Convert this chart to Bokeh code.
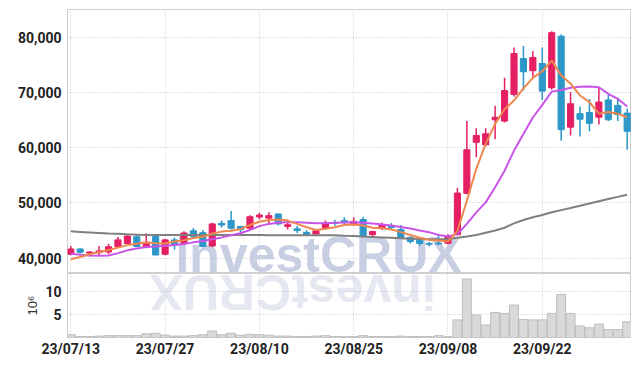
import numpy as np
from bokeh.plotting import figure
from bokeh.layouts import column
from bokeh.models import Range1d, FixedTicker, NumeralTickFormatter, ColumnDataSource
from bokeh.core.properties import value
from bokeh.embed import file_html
from bokeh.resources import INLINE

dates = ["23/07/13", "23/07/14", "23/07/17", "23/07/18", "23/07/19", "23/07/20", "23/07/21",
         "23/07/24", "23/07/25", "23/07/26", "23/07/27", "23/07/28", "23/07/31", "23/08/01",
         "23/08/02", "23/08/03", "23/08/04", "23/08/07", "23/08/08", "23/08/09", "23/08/10",
         "23/08/11", "23/08/14", "23/08/16", "23/08/17", "23/08/18", "23/08/21", "23/08/22",
         "23/08/23", "23/08/24", "23/08/25", "23/08/28", "23/08/29", "23/08/30", "23/08/31",
         "23/09/01", "23/09/04", "23/09/05", "23/09/06", "23/09/07", "23/09/08", "23/09/11",
         "23/09/12", "23/09/13", "23/09/14", "23/09/15", "23/09/18", "23/09/19", "23/09/20",
         "23/09/21", "23/09/22", "23/09/25", "23/09/26", "23/09/27", "23/10/04", "23/10/05",
         "23/10/06", "23/10/10", "23/10/11", "23/10/12"]

opens = [40700, 41650, 40900, 41000, 41100, 42100, 42650, 43850, 42000, 43900,
         40700, 43300, 42650, 44950, 44600, 42200, 46300, 46800, 45750, 45400,
         47450, 47250, 48000, 45750, 45300, 44650, 44350, 45550, 46450, 46800,
         46050, 47000, 44250, 45450, 45850, 45200, 43750, 43250, 42650, 42700,
         42700, 44250, 51750, 61000, 60550, 65100, 64850, 69700, 76200, 74000,
         75300, 70900, 80250, 63750, 66200, 66400, 65550, 68700, 67700, 66300]
highs = [42200, 41800, 41300, 42200, 42600, 43800, 44100, 44200, 44500, 44000,
         43500, 43750, 44850, 45450, 45100, 46400, 46800, 48550, 45800, 47750,
         48200, 48300, 48100, 46650, 45800, 45100, 45250, 46800, 46950, 47400,
         47400, 47500, 44950, 46450, 46350, 46000, 43900, 43450, 42950, 44350,
         44300, 52750, 64850, 63550, 63550, 67650, 72700, 78200, 78500, 77550,
         78200, 81150, 80550, 70100, 67500, 68850, 71000, 69700, 69100, 67150]
lows = [40500, 40800, 40300, 40400, 40700, 42000, 42500, 42000, 41800, 40500,
        40500, 41500, 42400, 43750, 42000, 42000, 45550, 45200, 44200, 45300,
        47000, 46200, 45900, 45200, 44550, 44100, 44050, 45250, 45850, 46200,
        45850, 43900, 43750, 45100, 45250, 43600, 42650, 42250, 42100, 42400,
        42500, 44100, 51600, 58300, 60300, 61550, 64600, 69300, 70400, 72800,
        68700, 70550, 61300, 62250, 62050, 63000, 64250, 64850, 64850, 59650]
closes = [41650, 41050, 41100, 41300, 42050, 43300, 44000, 42100, 42600, 40550,
          43300, 42350, 44550, 43900, 42100, 46200, 46000, 45400, 45150, 47500,
          47800, 47700, 46200, 46050, 45000, 44300, 44950, 46350, 46300, 46550,
          46650, 44100, 44800, 46050, 45550, 43750, 43000, 42650, 42500, 42550,
          43950, 51800, 59650, 62250, 62550, 65550, 70400, 77100, 73800, 76400,
          70300, 80900, 63300, 68000, 65200, 64450, 68300, 65100, 66050, 63000]

ma_short = [39800, 40200, 40700, 41100, 41450, 41900, 42350, 42600, 42850, 42700,
            42650, 43000, 43250, 43650, 43850, 44450, 44800, 44950, 45250, 46000,
            46600, 46900, 47000, 46800, 46200, 45600, 45100, 45300, 45600, 46000,
            46100, 45900, 45500, 45400, 45200, 44700, 44200, 43700, 43300, 43200,
            43000, 44950, 50400, 56200, 60750, 64350, 67000, 68600, 70800, 72700,
            73900, 75850, 73150, 71650, 69500, 68300, 66200, 66500, 66200, 65550]
ma_mid = [40800, 40600, 40450, 40400, 40450, 40900, 41400, 41750, 42000, 42100,
          42250, 42350, 42550, 42850, 43100, 43400, 43750, 44150, 44500, 45100,
          45800, 46200, 46400, 46500, 46500, 46400, 46300, 46300, 46400, 46450,
          46500, 46400, 46250, 46100, 45900, 45650, 45350, 45000, 44700, 44200,
          43900, 44350, 46200, 48300, 50100, 52850, 55850, 59500, 62500, 65500,
          67800, 70200, 70500, 70900, 71100, 71150, 71000, 69800, 68900, 67500]
ma_long = [44850, 44750, 44650, 44550, 44450, 44400, 44300, 44250, 44200, 44200,
           44200, 44200, 44200, 44200, 44200, 44200, 44200, 44200, 44200, 44200,
           44200, 44150, 44150, 44150, 44150, 44150, 44150, 44150, 44150, 44050,
           44000, 43900, 43800, 43750, 43700, 43600, 43500, 43450, 43400, 43400,
           43450, 43700, 43900, 44200, 44600, 45000, 45500, 46300, 46900, 47400,
           47800, 48300, 48700, 49100, 49500, 49900, 50300, 50700, 51100, 51500]

volume = [0.6, 0.2, 0.2, 0.3, 0.4, 0.4, 0.4, 0.4, 0.8, 0.9,
          0.5, 0.3, 0.3, 0.4, 0.6, 1.4, 0.6, 0.9, 0.5, 0.7,
          0.6, 0.5, 0.3, 0.3, 0.2, 0.2, 0.3, 0.4, 0.2, 0.2,
          0.2, 0.4, 0.2, 0.2, 0.2, 0.3, 0.2, 0.2, 0.2, 0.4,
          0.2, 3.8, 12.6, 4.85, 2.7, 5.4, 5.2, 7.0, 3.9, 3.8,
          3.8, 5.2, 9.3, 5.2, 2.5, 2.1, 2.9, 1.7, 1.7, 3.4]

price_ticks = [40000, 50000, 60000, 70000, 80000]
volume_ticks = [5, 10]
date_tick_idx = [0, 10, 20, 30, 40, 50]
watermark = "investCRUX"

UP = "#e41f63"
DOWN = "#2c97c8"
LABEL_FONT = "Roboto"
GRID = "#c4c6d6"
WM_FONT = "Liberation Sans"

idx = list(range(len(dates)))
xr = Range1d(-0.35, 59.46)

def style_common(p):
    p.outline_line_color = "#cfcfcf"
    p.outline_line_width = 1
    p.background_fill_color = "white"
    p.border_fill_color = "white"
    for ax in p.yaxis:
        ax.axis_line_color = None
        ax.major_tick_line_color = None
        ax.minor_tick_line_color = None
        ax.major_tick_out = 0
        ax.major_tick_in = 0
        ax.major_label_standoff = 6
        ax.major_label_text_font = LABEL_FONT
        ax.major_label_text_font_style = "bold"
        ax.major_label_text_font_size = "14px"
        ax.major_label_text_color = "#222222"
    for g in p.grid:
        g.grid_line_color = GRID
        g.grid_line_dash = "1 2"
        g.grid_line_width = 1

p1 = figure(width=631, height=273, x_range=xr, y_range=Range1d(37200, 85100),
            x_axis_location=None, toolbar_location=None, output_backend="svg",
            min_border_left=67, min_border_right=0, min_border_top=9, min_border_bottom=0,
            title=None)
p1.yaxis.ticker = FixedTicker(ticks=price_ticks)
p1.yaxis.formatter = NumeralTickFormatter(format="0,0")
p1.xgrid.ticker = FixedTicker(ticks=date_tick_idx)
style_common(p1)

wm_src = ColumnDataSource(dict(x=[11.1], y=[40560], t=[watermark]))
p1.text(x="x", y="y", text="t", source=wm_src, text_font=value(WM_FONT),
        text_font_style="bold", text_font_size="50px", text_color="#c9cfe3",
        text_align="left", text_baseline="alphabetic", level="underlay")

up_i = [i for i in idx if closes[i] >= opens[i]]
dn_i = [i for i in idx if closes[i] < opens[i]]
src_up = ColumnDataSource(dict(x=up_i, top=[closes[i] for i in up_i], bottom=[opens[i] for i in up_i],
                               high=[highs[i] for i in up_i], low=[lows[i] for i in up_i]))
src_dn = ColumnDataSource(dict(x=dn_i, top=[opens[i] for i in dn_i], bottom=[closes[i] for i in dn_i],
                               high=[highs[i] for i in dn_i], low=[lows[i] for i in dn_i]))

for src, col in ((src_up, UP), (src_dn, DOWN)):
    p1.segment(x0="x", x1="x", y0="low", y1="high", source=src, line_color=col, line_width=1.5)
    p1.vbar(x="x", top="top", bottom="bottom", width=0.65, source=src,
            fill_color=col, line_color=col, line_width=1)

p1.line(idx, ma_long, line_color="#7f7f7f", line_width=2)
p1.line(idx, ma_mid, line_color="#c955e8", line_width=2)
p1.line(idx, ma_short, line_color="#ef864d", line_width=2)

p2 = figure(width=631, height=86, x_range=xr, y_range=Range1d(0, 13.8),
            toolbar_location=None, output_backend="svg",
            min_border_left=67, min_border_right=0, min_border_top=0, min_border_bottom=22,
            title=None)
p2.yaxis.ticker = FixedTicker(ticks=volume_ticks)
p2.xaxis.ticker = FixedTicker(ticks=date_tick_idx)
p2.xgrid.ticker = FixedTicker(ticks=date_tick_idx)
p2.xaxis.major_label_overrides = {i: dates[i] for i in date_tick_idx}
style_common(p2)
p2.yaxis.axis_label = "10\u2076"
p2.yaxis.axis_label_text_font = "Liberation Sans"
p2.yaxis.axis_label_text_font_style = "normal"
p2.yaxis.axis_label_text_font_size = "13px"
p2.yaxis.axis_label_text_color = "#333333"
p2.yaxis.axis_label_standoff = 2
xa = p2.xaxis[0]
xa.axis_line_color = None
xa.major_tick_line_color = None
xa.minor_tick_line_color = None
xa.major_tick_out = 0
xa.major_tick_in = 0
xa.major_label_standoff = 3
xa.major_label_text_font = LABEL_FONT
xa.major_label_text_font_style = "bold"
xa.major_label_text_font_size = "14px"
xa.major_label_text_color = "#222222"

wm2_src = ColumnDataSource(dict(x=[38.7], y=[9.9], t=[watermark]))
p2.text(x="x", y="y", text="t", source=wm2_src, text_font=value(WM_FONT),
        text_font_style="bold", text_font_size="50px", text_color="#e6e8f1",
        text_align="left", text_baseline="alphabetic", angle=np.pi, level="underlay")

p2.vbar(x=idx, top=volume, width=0.95, fill_color="#d9d9d9", line_color="#bdbdbd", line_width=1)

layout = column(p1, p2, spacing=0)
open("out.html", "w").write(file_html(layout, INLINE))
